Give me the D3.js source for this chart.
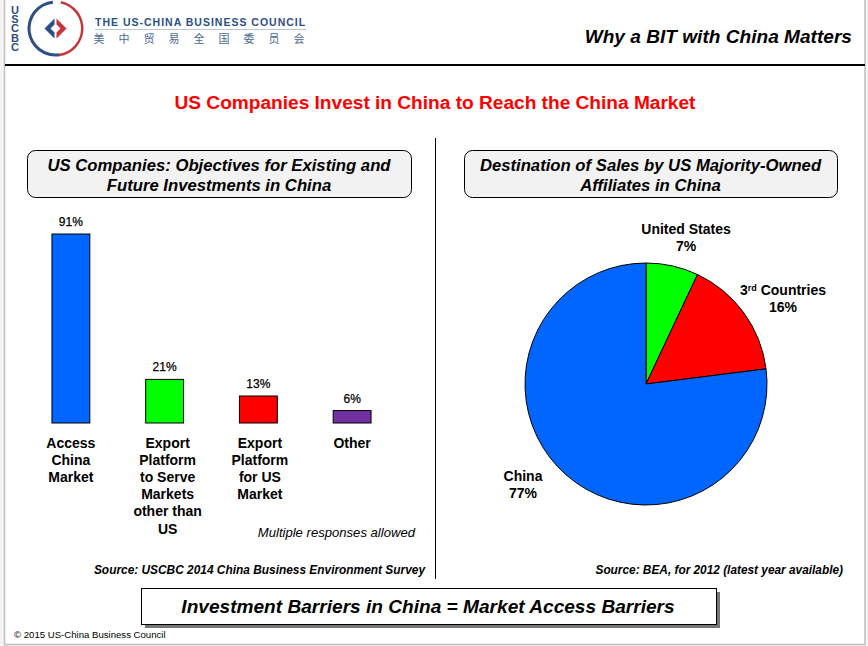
<!DOCTYPE html>
<html>
<head>
<meta charset="utf-8">
<script src="https://cdn.jsdelivr.net/npm/d3@7"></script>
<style>
html,body{margin:0;padding:0;background:#f4f4f4;}
svg{display:block;}
text{font-family:"Liberation Sans",Arial,sans-serif;fill:#000;}
</style>
</head>
<body>
<svg id="chart" width="868" height="646"></svg>
<script>
// chart values
var barCategories = [["Access","China","Market"],["Export","Platform","to Serve","Markets","other than","US"],["Export","Platform","for US","Market"],["Other"]];
var barValues = [91,21,13,6];
var barColors = ["#0066ff","#00ff00","#ff0000","#7030a0"];
var pieLabels = ["United States","3rd Countries","China"];
var pieValues = [7,16,77];
var pieColors = ["#00ff00","#ff0000","#0066ff"];
// category labels sit a little right of bars 2 and 3 in the original
var labelShift = [0,3,1.5,0];

var svg = d3.select("#chart");

function label(x,y,str,size,opts){
    opts = opts || {};
    return svg.append("text").attr("x",x).attr("y",y).text(str)
        .attr("font-size",size)
        .attr("text-anchor",opts.anchor || "middle")
        .attr("font-weight",opts.bold ? "bold" : "normal")
        .attr("font-style",opts.italic ? "italic" : "normal")
        .style("fill",opts.fill || "#000");
}

// frame
svg.append("rect").attr("x",4.5).attr("y",-2).attr("width",860.5).attr("height",646.5)
    .attr("fill","#fff").attr("stroke","#c2c2c2").attr("stroke-width",1.6);
svg.append("line").attr("x1",5).attr("x2",865).attr("y1",65).attr("y2",65)
    .attr("stroke","#000").attr("stroke-width",2);

// logo
label(15,4,"USCBC",11,{anchor:"start",bold:true,fill:"#2c4f86"})
    .style("writing-mode","vertical-rl").style("text-orientation","upright")
    .style("letter-spacing","-2.8px");
var logo = svg.append("g").attr("transform","translate(55.5,28.5)");
var logoArc = d3.arc();
logo.append("path").attr("d",logoArc({innerRadius:25,outerRadius:28,startAngle:-3.3,endAngle:-0.1})).attr("fill","#2c4f86");
logo.append("path").attr("d",logoArc({innerRadius:25.5,outerRadius:28,startAngle:0.2,endAngle:3.0})).attr("fill","#c8343c");
logo.append("path").attr("d","M-1,-10L-11,0L-1,10L-1,4L-5,0L-1,-4Z").attr("fill","#2c4f86");
logo.append("path").attr("d","M1,-10L11,0L1,10L1,4L5,0L1,-4Z").attr("fill","#c8343c");
label(95,26,"THE US-CHINA BUSINESS COUNCIL",10.5,{anchor:"start",bold:true,fill:"#2c4f86"}).attr("letter-spacing",1);
svg.append("line").attr("x1",95).attr("x2",306).attr("y1",29.5).attr("y2",29.5).attr("stroke","#b9c6d8");
"美中贸易全国委员会".split("").forEach(function(c,i){
    svg.append("text").attr("x",99+i*25).attr("y",43).text(c).attr("font-size",11)
        .attr("text-anchor","middle").style("font-family","'Noto Sans CJK SC'").style("fill","#4a6a96");
});

// titles
label(852,43,"Why a BIT with China Matters",19.1,{anchor:"end",bold:true,italic:true});
label(435,109,"US Companies Invest in China to Reach the China Market",19.1,{bold:true,fill:"#ff0000"});

// centre divider
svg.append("line").attr("x1",435.5).attr("x2",435.5).attr("y1",138).attr("y2",579).attr("stroke","#000");

// panel headers
function header(x,w,lines){
    svg.append("rect").attr("x",x+.5).attr("y",150.5).attr("width",w).attr("height",47)
        .attr("rx",8).attr("fill","#f2f2f2").attr("stroke","#000");
    label(x+w/2,171,lines[0],16.7,{bold:true,italic:true});
    label(x+w/2,191,lines[1],16.7,{bold:true,italic:true});
}
header(27,384,["US Companies: Objectives for Existing and","Future Investments in China"]);
header(464,373,["Destination of Sales by US Majority-Owned","Affiliates in China"]);

// bars
var x = d3.scaleBand().domain(d3.range(barValues.length)).range([24,399]).paddingInner(0.596).paddingOuter(0.298);
var y = d3.scaleLinear().domain([0,91]).range([423,234]);

svg.selectAll("rect.bar").data(barValues).enter().append("rect")
    .attr("class","bar")
    .attr("x",function(d,i){return x(i);})
    .attr("y",function(d){return y(d);})
    .attr("width",x.bandwidth())
    .attr("height",function(d){return y(0)-y(d);})
    .attr("fill",function(d,i){return barColors[i];})
    .attr("stroke","#000");

barValues.forEach(function(d,i){
    var cx = x(i)+x.bandwidth()/2;
    label(cx,y(d)-8,d+"%",12).style("stroke","#000").style("stroke-width",0.25);
    barCategories[i].forEach(function(line,j){
        label(cx+labelShift[i],447.5+j*17.2,line,14,{bold:true});
    });
});
label(415,537,"Multiple responses allowed",13.1,{anchor:"end",italic:true});
label(425,574,"Source: USCBC 2014 China Business Environment Survey",11.9,{anchor:"end",bold:true,italic:true});

// pie
var pie = d3.pie().sort(null).value(function(d){return d;});
var arc = d3.arc().innerRadius(0).outerRadius(121);
svg.append("g").attr("transform","translate(646,384)")
    .selectAll("path").data(pie(pieValues)).enter().append("path")
    .attr("d",arc)
    .attr("fill",function(d,i){return pieColors[i];})
    .attr("stroke","#000");

label(686,234,pieLabels[0],14,{bold:true});
label(686,251,pieValues[0]+"%",14,{bold:true});
var third = label(783,295,"3",14,{bold:true});
third.append("tspan").text("rd").attr("font-size",9).attr("dy",-4);
third.append("tspan").text(" Countries").attr("dy",4);
label(783,312,pieValues[1]+"%",14,{bold:true});
label(523,481,pieLabels[2],14,{bold:true});
label(523,498,pieValues[2]+"%",14,{bold:true});
label(843,574,"Source: BEA, for 2012 (latest year available)",11.85,{anchor:"end",bold:true,italic:true});

// bottom box
svg.append("rect").attr("x",145).attr("y",592).attr("width",575).attr("height",36).attr("fill","#777");
svg.append("rect").attr("x",141.5).attr("y",588.5).attr("width",575).attr("height",36).attr("fill","#fff").attr("stroke","#000");
label(428,613,"Investment Barriers in China = Market Access Barriers",19.1,{bold:true,italic:true});

label(14,638,"© 2015 US-China Business Council",9.6,{anchor:"start"});
</script>
</body>
</html>
